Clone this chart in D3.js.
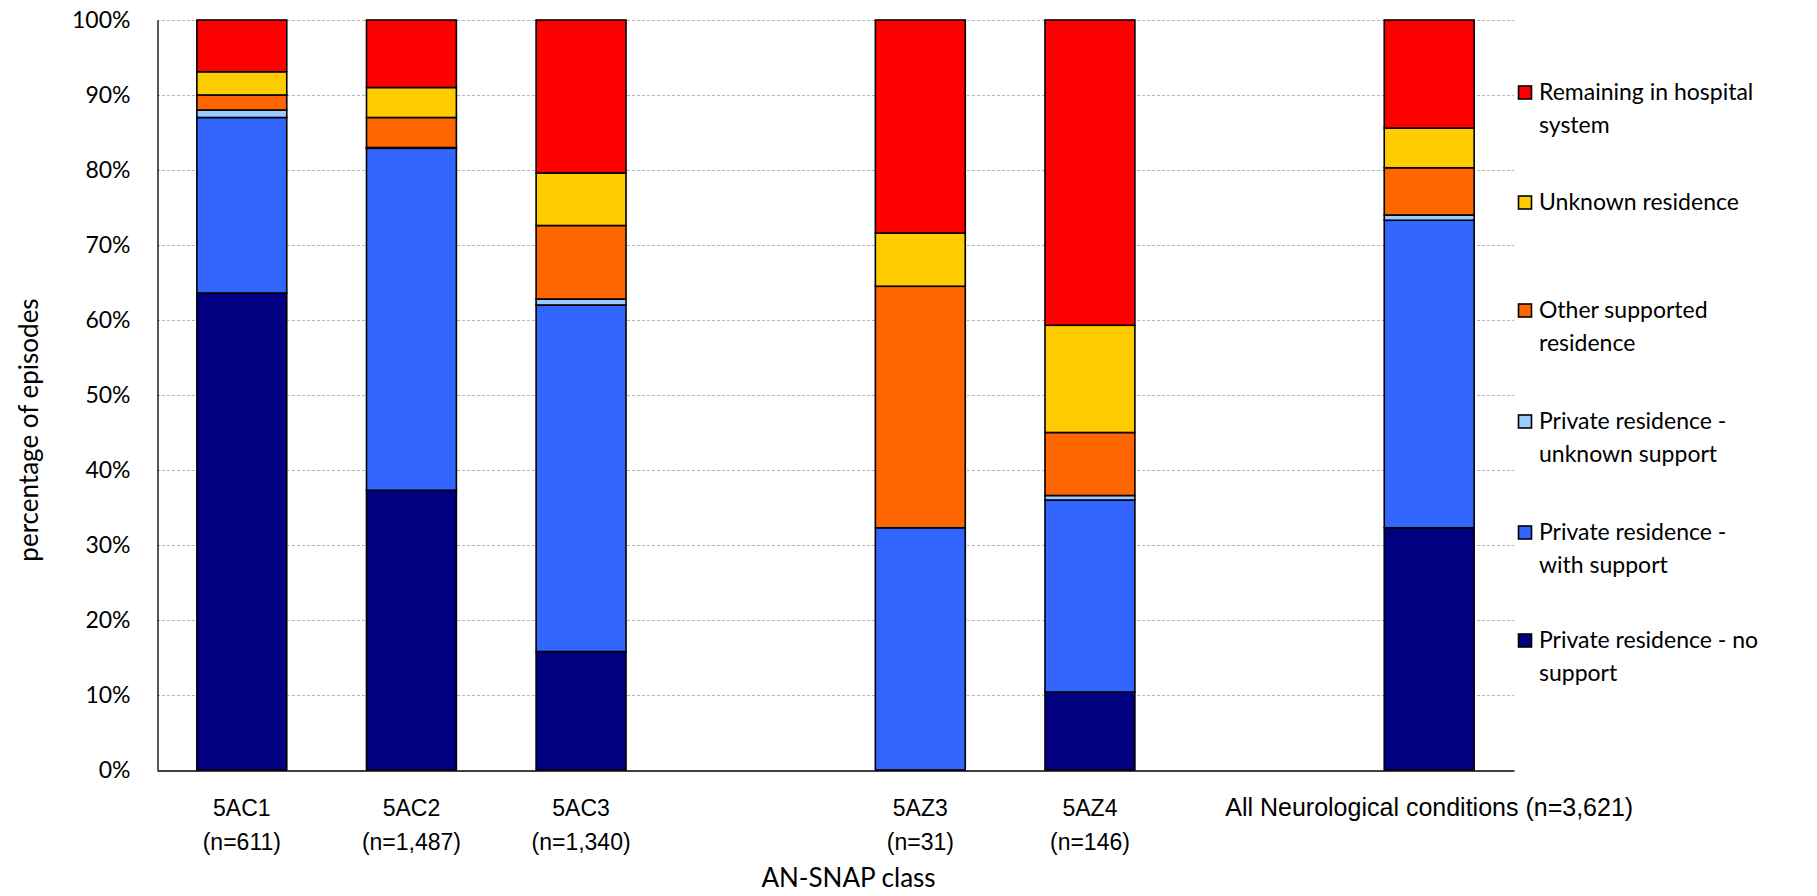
<!DOCTYPE html>
<html>
<head>
<meta charset="utf-8">
<script src="https://cdn.jsdelivr.net/npm/d3@7"></script>
<style>
  html, body { margin: 0; padding: 0; background: #fff; }
  svg { display: block; font-family: Lato, "Noto Sans", sans-serif; }
</style>
</head>
<body>
<svg id="chart" width="1817" height="896"></svg>
<script>
// ---------------- Data ----------------
const categories = ["5AC1", "5AC2", "5AC3", "gap1", "5AZ3", "5AZ4", "gap2", "All"];
const labelLine1 = ["5AC1", "5AC2", "5AC3", "", "5AZ3", "5AZ4", "", "All Neurological conditions (n=3,621)"];
const labelLine2 = ["(n=611)", "(n=1,487)", "(n=1,340)", "", "(n=31)", "(n=146)", "", ""];

const seriesNames = [
  "Private residence - no support",
  "Private residence - with support",
  "Private residence - unknown support",
  "Other supported residence",
  "Unknown residence",
  "Remaining in hospital system"
];
const seriesColors = ["#000080", "#3366FF", "#99CCFF", "#FF6600", "#FFCC00", "#FF0000"];

const noSupport        = [63.6, 37.3, 15.8, null, 0.0, 10.4, null, 32.3];
const withSupport      = [23.4, 45.6, 46.2, null, 32.3, 25.6, null, 41.0];
const unknownSupport   = [1.0, 0.1, 0.8, null, 0.0, 0.6, null, 0.7];
const otherSupported   = [2.0, 4.0, 9.8, null, 32.2, 8.4, null, 6.3];
const unknownResidence = [3.1, 4.0, 7.0, null, 7.1, 14.3, null, 5.3];
const hospital         = [6.9, 9.0, 20.4, null, 28.4, 40.7, null, 14.4];

const yTicks = [0, 10, 20, 30, 40, 50, 60, 70, 80, 90, 100];
const yTitle = "percentage of episodes";
const xTitle = "AN-SNAP class";

// legend order (top to bottom) with line breaks
const legendLines = [
  ["Remaining in hospital", "system"],
  ["Unknown residence"],
  ["Other supported", "residence"],
  ["Private residence -", "unknown support"],
  ["Private residence -", "with support"],
  ["Private residence - no", "support"]
];
const legendColors = ["#FF0000", "#FFCC00", "#FF6600", "#99CCFF", "#3366FF", "#000080"];

// ---------------- Build table ----------------
const allSeries = [noSupport, withSupport, unknownSupport, otherSupported, unknownResidence, hospital];
const table = categories.map((c, i) => {
  const row = { cat: c, gap: allSeries[0][i] === null };
  seriesNames.forEach((s, j) => row[s] = allSeries[j][i] || 0);
  return row;
});

// ---------------- Layout ----------------
const svg = d3.select("#chart");
const margin = { left: 157, right: 303, top: 20, bottom: 126 };
const W = 1817, H = 896;
const x0 = margin.left, x1 = W - margin.right;
const yTop = margin.top, yBot = H - margin.bottom;

const x = d3.scaleBand().domain(categories).range([x0, x1])
  .paddingInner(0.47).paddingOuter(0.235);
const y = d3.scaleLinear().domain([0, 100]).range([yBot, yTop]);

const FONT = 23;
const TITLE_FONT = 26;

// gridlines
svg.append("g").selectAll("line").data(yTicks.filter(t => t > 0)).join("line")
  .attr("x1", x0).attr("x2", x1)
  .attr("y1", d => y(d) + 0.5).attr("y2", d => y(d) + 0.5)
  .attr("stroke", "#b4b4b4").attr("stroke-width", 1.2)
  .attr("stroke-dasharray", "3,2");

// y axis
const yAxis = d3.axisLeft(y).tickValues(yTicks).tickFormat(d => d + "%").tickSize(0).tickPadding(27);
const gy = svg.append("g").attr("transform", `translate(${x0 + 0.5},0)`).call(yAxis);
gy.select(".domain").attr("stroke", "#000").attr("stroke-width", 1.3);
gy.selectAll("text").attr("font-size", FONT).attr("fill", "#000").attr("font-family", "Lato");

// bars
const stack = d3.stack().keys(seriesNames);
const stacked = stack(table.filter(d => !d.gap));
svg.append("g").selectAll("g").data(stacked).join("g")
  .attr("fill", (d, i) => seriesColors[i])
  .selectAll("rect").data(d => d.filter(p => (p[1] - p[0]) > 0)).join("rect")
  .attr("x", d => x(d.data.cat))
  .attr("width", x.bandwidth())
  .attr("y", d => y(d[1]))
  .attr("height", d => y(d[0]) - y(d[1]))
  .attr("stroke", "#000").attr("stroke-width", 1.6);

// x axis
const xAxis = d3.axisBottom(x).tickSize(0).tickFormat("");
const gx = svg.append("g").attr("transform", `translate(0,${yBot + 0.5})`).call(xAxis);
gx.select(".domain").attr("stroke", "#000").attr("stroke-width", 1.3);
gx.selectAll(".tick").each(function(d, i) {
  const t = d3.select(this);
  const long = labelLine1[i].length > 10;
  t.append("text").attr("y", 45).attr("text-anchor", "middle")
    .attr("font-size", long ? 25 : FONT).attr("fill", "#000").text(labelLine1[i]);
  t.append("text").attr("y", 79).attr("text-anchor", "middle")
    .attr("font-size", FONT).attr("fill", "#000").text(labelLine2[i]);
});

// axis titles
svg.append("text").attr("x", (x0 + x1) / 2 + 13).attr("y", 887)
  .attr("text-anchor", "middle").attr("font-size", TITLE_FONT).text(xTitle);
svg.append("text")
  .attr("transform", `translate(38,${(yTop + yBot) / 2 + 35}) rotate(-90)`)
  .attr("text-anchor", "middle").attr("font-size", TITLE_FONT).text(yTitle);

// legend
const legendY = [92, 202, 310, 421, 532, 640];
const lg = svg.append("g").selectAll("g").data(legendLines).join("g")
  .attr("transform", (d, i) => `translate(1518,${legendY[i]})`);
lg.append("rect").attr("x", 0.5).attr("y", -6).attr("width", 13).attr("height", 13)
  .attr("fill", (d, i) => legendColors[i]).attr("stroke", "#000").attr("stroke-width", 1.6);
lg.each(function(lines) {
  const g = d3.select(this);
  lines.forEach((ln, k) => {
    g.append("text").attr("x", 21).attr("y", k * 33 + 8)
      .attr("font-size", FONT).attr("fill", "#000").text(ln);
  });
});
</script>
</body>
</html>
